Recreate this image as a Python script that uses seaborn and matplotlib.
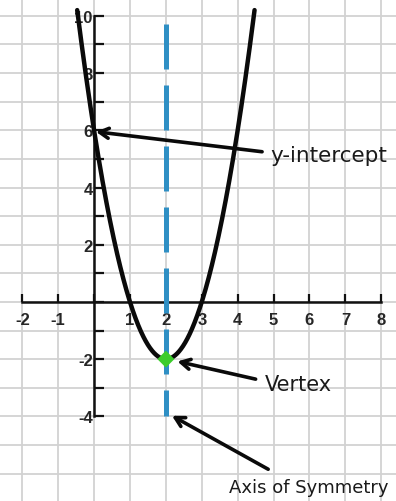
import numpy as np
import matplotlib
matplotlib.use("Agg")
import matplotlib.pyplot as plt
import seaborn as sns

# Parabola y = a(x - h)^2 + k
a_coef = 2.0
vertex = (2.0, -2.0)
y_intercept = (0.0, 6.0)
curve_x_range = (-0.47, 4.47)
symmetry_span = (9.72, -4.0)

x_ticks = [-2, -1, 0, 1, 2, 3, 4, 5, 6, 7, 8]
x_tick_labels = ['-2', '-1', '', '1', '2', '3', '4', '5', '6', '7', '8']
y_ticks = [-4, -3, -2, -1, 0, 1, 2, 3, 4, 5, 6, 7, 8, 9, 10]
y_tick_labels = ['-4', '', '-2', '', '', '', '2', '', '4', '', '6', '', '8', '', '10']

callout_labels = ['y-intercept', 'Vertex', 'Axis of Symmetry']
callout_targets = [(0.05, 5.95), (2.32, -2.08), (2.17, -3.98)]
callout_tails = [(4.68, 5.25), (4.5, -2.7), (4.85, -5.85)]
callout_text_pos = [(4.9, 5.12), (4.76, -2.87), (5.98, -6.47)]
callout_ha = ['left', 'left', 'center']
callout_size = [15.5, 15, 13]

sns.set_theme(style="white")
plt.rcParams['font.family'] = ['DejaVu Sans']

fig = plt.figure(figsize=(3.96, 5.02), dpi=100)
ax = fig.add_axes([0, 0, 1, 1])
ax.set_xlim(-2.62, 8.41)
ax.set_ylim(-6.96, 10.59)

# graph-paper grid
ax.vlines(np.arange(-3, 10), -8, 12, color='#d2d2d2', lw=1.3, zorder=0)
ax.hlines(np.arange(-8, 12), -3, 9, color='#d2d2d2', lw=1.3, zorder=0)

# axes through the origin
for side in ['top', 'right']:
    ax.spines[side].set_visible(False)
ax.spines['left'].set_position(('data', 0))
ax.spines['bottom'].set_position(('data', 0))
ax.spines['left'].set_bounds(-4, 10)
ax.spines['bottom'].set_bounds(-2, 8)
for side in ['left', 'bottom']:
    ax.spines[side].set_color('#111111')
    ax.spines[side].set_linewidth(1.8)
    ax.spines[side].set_zorder(1)

ax.set_xticks(x_ticks)
ax.set_xticklabels(x_tick_labels)
ax.set_yticks(y_ticks)
ax.set_yticklabels(y_tick_labels)
ax.tick_params(axis='x', direction='in', length=6, width=1.6, color='#111111',
               labelsize=12, pad=7, bottom=True)
ax.tick_params(axis='y', direction='in', length=7, width=1.6, color='#111111',
               labelsize=12, pad=1, left=True)
for lab in ax.get_xticklabels() + ax.get_yticklabels():
    lab.set_fontfamily(['Liberation Sans', 'DejaVu Sans'])
    lab.set_fontweight('bold')
    lab.set_color('#262626')

# parabola
xs = np.linspace(curve_x_range[0], curve_x_range[1], 400)
ys = a_coef * (xs - vertex[0]) ** 2 + vertex[1]
sns.lineplot(x=xs, y=ys, ax=ax, color='#0a0a0a', lw=3.2, sort=False, zorder=3)

# axis of symmetry
ax.plot([vertex[0], vertex[0]], list(symmetry_span), color='#2f8fc4', lw=3.6,
        linestyle=(0, (9, 3.2)), solid_capstyle='butt', zorder=2)

# vertex marker
ax.scatter([vertex[0]], [vertex[1]], marker='D', s=75, color='#3ccc2c',
           edgecolor='none', zorder=5)

# callouts
for label, tgt, tail, tpos, ha, fs in zip(callout_labels, callout_targets,
                                          callout_tails, callout_text_pos,
                                          callout_ha, callout_size):
    ax.annotate('', xy=tgt, xytext=tail,
                arrowprops=dict(arrowstyle='->,head_length=0.55,head_width=0.3',
                                color='#0a0a0a', lw=2.6, shrinkA=0, shrinkB=0),
                zorder=6)
    ax.text(tpos[0], tpos[1], label, ha=ha, va='center', fontsize=fs,
            color='#1a1a1a', zorder=6)

fig.savefig('out.png', dpi=100)
